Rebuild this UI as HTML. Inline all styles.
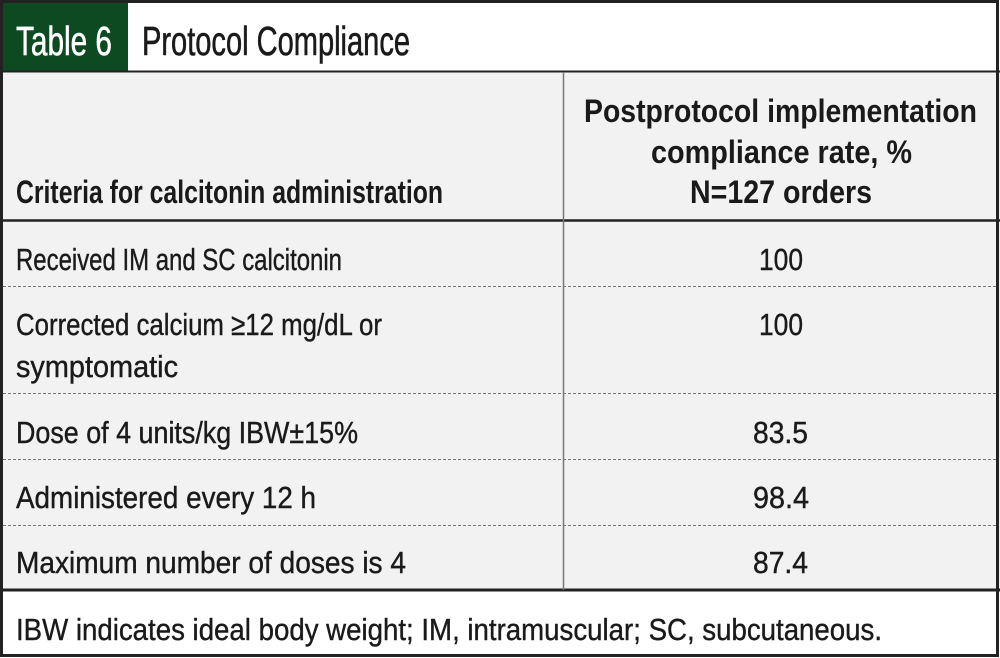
<!DOCTYPE html>
<html><head><meta charset="utf-8"><style>
html,body{margin:0;padding:0;background:#fff;width:1000px;height:658px;overflow:hidden}
text{font-family:"Liberation Sans",sans-serif;fill:#1a1a1a}
</style></head><body>
<svg width="1000" height="658" viewBox="0 0 1000 658" xmlns="http://www.w3.org/2000/svg">
<rect x="0" y="72" width="1000" height="518" fill="#f2f2f2"/>
<rect x="0" y="0" width="128" height="72" fill="#0d4a22"/>
<rect x="1.5" y="1.5" width="996" height="654" fill="none" stroke="#222" stroke-width="3"/>
<line x1="0" y1="71.5" x2="1000" y2="71.5" stroke="#222" stroke-width="2"/>
<line x1="0" y1="220.5" x2="1000" y2="220.5" stroke="#222" stroke-width="2.5"/>
<line x1="0" y1="590" x2="1000" y2="590" stroke="#222" stroke-width="3"/>
<line x1="563.5" y1="72" x2="563.5" y2="590" stroke="#777" stroke-width="1.5"/>
<g stroke="#777" stroke-width="1" stroke-dasharray="3,2">
<line x1="3" y1="286.5" x2="997" y2="286.5"/>
<line x1="3" y1="393.5" x2="997" y2="393.5"/>
<line x1="3" y1="459.5" x2="997" y2="459.5"/>
<line x1="3" y1="525.5" x2="997" y2="525.5"/>
</g>
<g font-size="41" stroke-width="0.6">
<text x="16" y="55" textLength="96" lengthAdjust="spacingAndGlyphs" style="fill:#fff;stroke:#fff">Table 6</text>
<text x="142" y="55" textLength="268" lengthAdjust="spacingAndGlyphs" stroke="#1a1a1a">Protocol Compliance</text>
</g>
<g font-size="32" font-weight="bold">
<text x="16" y="203" textLength="427" lengthAdjust="spacingAndGlyphs">Criteria for calcitonin administration</text>
<text x="584" y="122" textLength="393" lengthAdjust="spacingAndGlyphs">Postprotocol implementation</text>
<text x="651" y="163" textLength="261" lengthAdjust="spacingAndGlyphs">compliance rate, %</text>
<text x="690" y="203" textLength="182" lengthAdjust="spacingAndGlyphs">N=127 orders</text>
</g>
<g font-size="31" stroke="#1a1a1a" stroke-width="0.4">
<text x="16" y="270" textLength="326" lengthAdjust="spacingAndGlyphs">Received IM and SC calcitonin</text>
<text x="16" y="335" textLength="366" lengthAdjust="spacingAndGlyphs">Corrected calcium ≥12 mg/dL or</text>
<text x="16" y="377" textLength="162" lengthAdjust="spacingAndGlyphs">symptomatic</text>
<text x="16" y="443" textLength="342" lengthAdjust="spacingAndGlyphs">Dose of 4 units/kg IBW±15%</text>
<text x="16" y="508" textLength="300" lengthAdjust="spacingAndGlyphs">Administered every 12 h</text>
<text x="16" y="573" textLength="390" lengthAdjust="spacingAndGlyphs">Maximum number of doses is 4</text>
<text x="759" y="270" textLength="44" lengthAdjust="spacingAndGlyphs">100</text>
<text x="759" y="335" textLength="44" lengthAdjust="spacingAndGlyphs">100</text>
<text x="753" y="443" textLength="55" lengthAdjust="spacingAndGlyphs">83.5</text>
<text x="753" y="508" textLength="56" lengthAdjust="spacingAndGlyphs">98.4</text>
<text x="753" y="573" textLength="55" lengthAdjust="spacingAndGlyphs">87.4</text>
<text x="16" y="640" textLength="866" lengthAdjust="spacingAndGlyphs">IBW indicates ideal body weight; IM, intramuscular; SC, subcutaneous.</text>
</g>
</svg>
</body></html>
